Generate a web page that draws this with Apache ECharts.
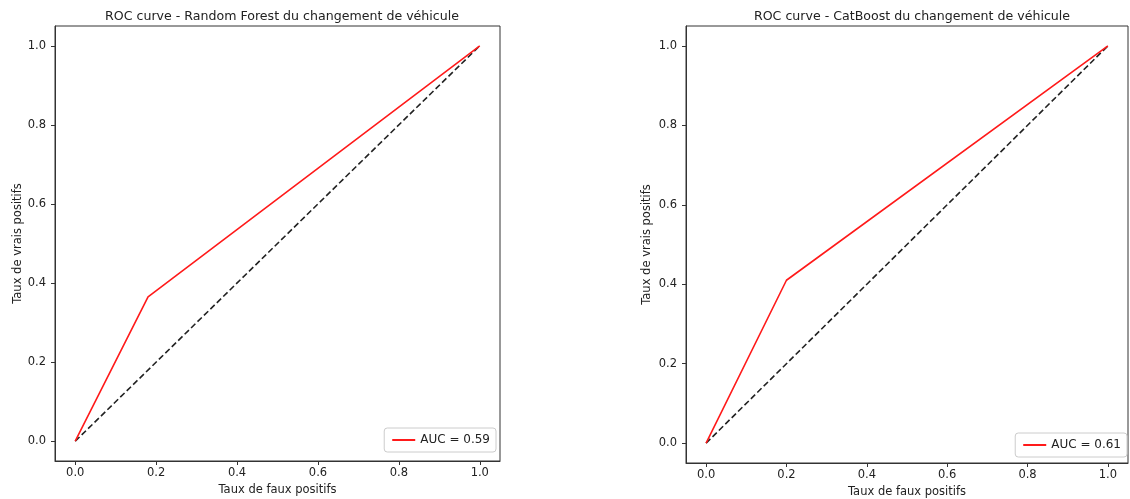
<!DOCTYPE html>
<html><head><meta charset="utf-8">
<script src="https://cdn.jsdelivr.net/npm/echarts@6/dist/echarts.min.js"></script>
<style>html,body{margin:0;padding:0;background:#fff}#c{width:1130px;height:499px}</style>
</head><body><div id="c"></div>
<script>
const titles = ['ROC curve - Random Forest du changement de véhicule', 'ROC curve - CatBoost du changement de véhicule'];
const rfFpr = [0, 0.18, 1];
const rfTpr = [0, 0.365, 1];
const cbFpr = [0, 0.20, 1];
const cbTpr = [0, 0.41, 1];
const aucLabels = ['AUC = 0.59', 'AUC = 0.61'];
const diagX = [0, 1];
const diagY = [0, 1];
const tickVals = [0, 0.2, 0.4, 0.6, 0.8, 1.0];
const xLabel = 'Taux de faux positifs';
const yLabel = 'Taux de vrais positifs';

const font = 'DejaVu Sans';
const grids = [
  {left: 55, top: 26, width: 445, height: 435},
  {left: 686, top: 26, width: 442, height: 437}
];
function axis(i, name, gap, margin) {
  return {
    type: 'value', gridIndex: i, min: -0.05, max: 1.05,
    name: name, nameLocation: 'middle', nameGap: gap,
    nameTextStyle: {fontFamily: font, fontSize: 11.5, color: '#222'},
    axisLine: {show: true, onZero: false, lineStyle: {color: '#333', width: 1}},
    splitLine: {show: false},
    axisTick: {show: true, length: 4, inside: false, customValues: tickVals, lineStyle: {color: '#333'}},
    axisLabel: {customValues: tickVals, fontFamily: font, fontSize: 11.5, color: '#222', margin: margin,
      formatter: v => v.toFixed(1)}
  };
}
const pairs = [[rfFpr, rfTpr], [cbFpr, cbTpr]];
const series = [];
pairs.forEach((p, i) => {
  series.push({
    name: aucLabels[i], type: 'line', xAxisIndex: i, yAxisIndex: i,
    data: p[0].map((x, k) => [x, p[1][k]]), symbol: 'none',
    lineStyle: {color: '#ff1a1a', width: 1.6}, itemStyle: {color: '#ff1a1a'}, z: 3
  });
  series.push({
    name: 'diag' + i, type: 'line', xAxisIndex: i, yAxisIndex: i,
    data: diagX.map((x, k) => [x, diagY[k]]), symbol: 'none',
    lineStyle: {color: '#222', width: 1.6, type: [6, 3]}, z: 2
  });
});
const titleCenters = [277, 907];
const chart = echarts.init(document.getElementById('c'), null, {renderer: 'canvas'});
chart.setOption({
  animation: false,
  backgroundColor: '#fff',
  title: titles.map((t, i) => ({
    text: t, left: titleCenters[i], top: 5, textAlign: 'center',
    textStyle: {fontFamily: font, fontSize: 12.6, fontWeight: 'normal', color: '#222'}
  })),
  grid: grids.map(g => Object.assign({show: true, borderColor: '#333', borderWidth: 1, backgroundColor: 'transparent', outerBoundsMode: 'none', containLabel: false}, g)),
  xAxis: [axis(0, xLabel, 22, 6), axis(1, xLabel, 21, 6)],
  yAxis: [axis(0, yLabel, 31, 9), axis(1, yLabel, 33, 9)],
  legend: aucLabels.map((l, i) => ({
    data: [l], right: i === 0 ? 1130 - 496 : 3,
    top: i === 0 ? 428 : 433,
    orient: 'vertical', itemWidth: 23, itemHeight: 2, itemGap: 4,
    icon: 'rect', borderColor: '#ccc', borderWidth: 1, borderRadius: 3,
    backgroundColor: '#fff', padding: [6, 6, 6, 8],
    textStyle: {fontFamily: font, fontSize: 12, color: '#222'}
  })),
  series: series
});
</script></body></html>
